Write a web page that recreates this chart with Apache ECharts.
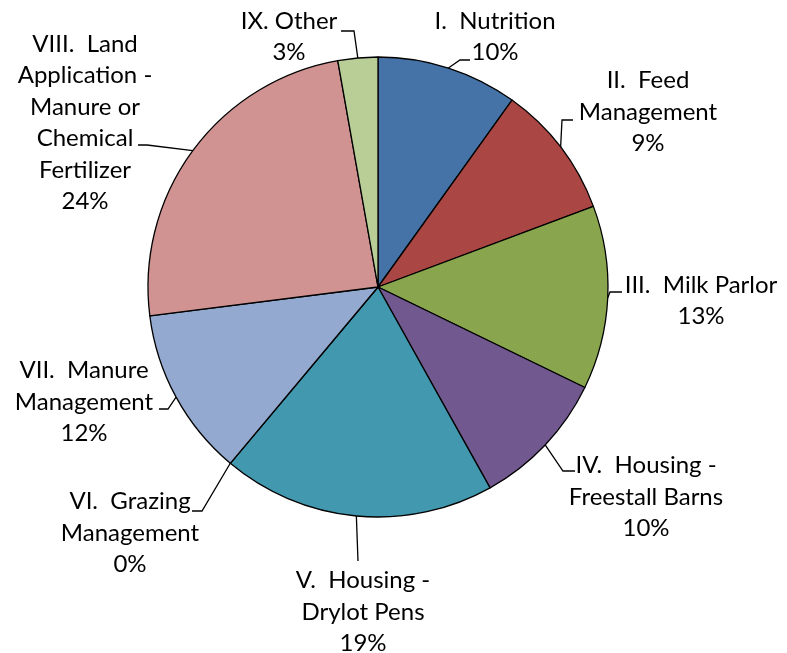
<!DOCTYPE html>
<html>
<head>
<meta charset="utf-8">
<script src="https://cdn.jsdelivr.net/npm/echarts@6/dist/echarts.min.js"></script>
<style>
html,body{margin:0;padding:0;background:#fff;}
#chart{width:787px;height:653px;}
</style>
</head>
<body>
<div id="chart"></div>
<script>
// ---- data ----
var categories = [
  "I.  Nutrition",
  "II.  Feed\nManagement",
  "III.  Milk Parlor",
  "IV.  Housing -\nFreestall Barns",
  "V.  Housing -\nDrylot Pens",
  "VI.  Grazing\nManagement",
  "VII.  Manure\nManagement",
  "VIII.  Land\nApplication -\nManure or\nChemical\nFertilizer",
  "IX. Other"
];
var values = [9.9, 9.4, 12.9, 9.7, 19.2, 0, 11.9, 24.2, 2.8];

// ---- style ----
var colors = ["#4572A7", "#AA4643", "#89A54E", "#71588F", "#4198AF", "#DB843D", "#93A9CF", "#D19392", "#B9CD96"];
var CX = 378, CY = 287, R = 230;
// label block centre, offset from pie centre (px)
var labelOffsets = [[117,-250],[270,-175],[323,14],[268,210],[-15,325],[-248,246],[-294,115],[-293,-164],[-89,-250]];
// leader-line attach point, offset from label centre (px), and horizontal stub length
var attachOffsets = [[-25,23],[-75,8],[-79,-9],[-71,-26],[-5,-51],[62,-22],[75,7],[53,22],[52,-6]];
var stubs = [10,11,12,12,0,10,9,9,13];

var total = values.reduce(function(a,b){return a+b;},0);
var midAngles = [];
(function(){
  var cum = 0;
  for (var i=0;i<values.length;i++){
    var mid = (cum + values[i]/2)/total*2*Math.PI;
    midAngles.push(mid);
    cum += values[i];
  }
})();

var chart = echarts.init(document.getElementById('chart'), null, {renderer:'canvas'});
var option = {
  backgroundColor: '#ffffff',
  animation: false,
  series: [{
    type: 'pie',
    center: [CX, CY],
    radius: [0, R],
    startAngle: 90,
    clockwise: true,
    avoidLabelOverlap: false,
    data: categories.map(function(c,i){
      return {name:c, value:values[i], itemStyle:{color:colors[i]}};
    }),
    itemStyle: {borderColor:'#000000', borderWidth:1.3},
    emphasis: {disabled:true},
    label: {
      show: true,
      position: 'outside',
      fontFamily: 'Lato',
      fontSize: 24,
      lineHeight: 31.5,
      color: '#000000',
      align: 'center',
      formatter: function(p){ return p.name + '\n' + Math.round(p.percent) + '%'; }
    },
    labelLine: {show:true, lineStyle:{color:'#000000', width:1.3}},
    labelLayout: function(p){
      var i = p.dataIndex;
      var lx = CX + labelOffsets[i][0], ly = CY + labelOffsets[i][1];
      var ax = lx + attachOffsets[i][0], ay = ly + attachOffsets[i][1];
      var a = midAngles[i];
      var px = CX + R*Math.sin(a), py = CY - R*Math.cos(a);
      var dir = px > ax ? 1 : -1;
      var ex = ax + dir*stubs[i];
      return {
        x: lx, y: ly, align:'center', verticalAlign:'middle',
        labelLinePoints: [[px,py],[ex,ay],[ax,ay]]
      };
    }
  }]
};
chart.setOption(option);
</script>
</body>
</html>
